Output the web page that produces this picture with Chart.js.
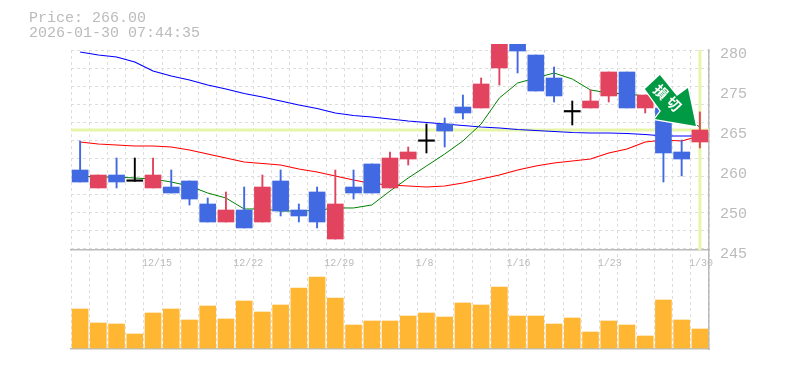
<!DOCTYPE html>
<html><head><meta charset="utf-8">
<style>html,body{margin:0;padding:0;background:#fff}canvas{display:block}</style>
<script src="https://cdn.jsdelivr.net/npm/chart.js@4"></script>
</head><body><canvas id="c" width="785" height="370"></canvas>
<script>
const categories=['12/9','12/10','12/11','12/12','12/15','12/16','12/17','12/18','12/19','12/22','12/23','12/24','12/25','12/26','12/29','12/30','1/5','1/6','1/7','1/8','1/9','1/13','1/14','1/15','1/16','1/19','1/20','1/21','1/22','1/23','1/26','1/27','1/28','1/29','1/30'];
const tickDates=['12/15','12/22','12/29','1/8','1/16','1/23','1/30'];
const opens=[258.5,255.13,257.56,256.38,255.13,255.31,256.44,252.13,248.75,251,248.75,256.44,251,254.38,245.56,255.31,259.63,255.13,260.56,263.88,267.13,270.31,270.13,277.63,284,280.06,275.75,269.38,270.13,272.38,276.88,270.13,270.13,261.88,263.75];
const closes=[256.25,257.56,256.25,256.38,257.56,254.19,253.06,248.75,251,247.63,255.31,250.81,249.88,248.75,252.13,254.19,254.19,260.75,261.88,263.88,265.81,269.19,274.63,284,280.81,273.31,272.38,269.38,271.44,276.88,270.13,272.56,261.69,260.56,266];
const highs=[263.94,257.56,260.75,260.75,260.75,258.5,256.44,253.25,254.38,255.31,257.56,258.5,252.13,255.31,258.5,258.5,259.63,261.88,262.81,267.13,268.25,272.56,275.75,284,284,280.06,277.81,271.44,273.5,276.88,276.88,272.56,270.13,264.13,269.38];
const lows=[256.25,255.13,255.13,256.38,255.13,254.19,251.94,248.75,248.75,247.63,248.75,249.88,248.75,247.63,245.56,253.06,254.19,255.13,259.44,261.69,262.81,268.06,270.13,274.44,276.69,273.31,271.25,266.94,270.13,271.25,270.13,269.19,256.25,257.38,262.63];
const maShort=[257.38,257.19,257.19,257,256.81,256.25,255.5,254.19,253.25,251.19,251.19,250.81,250.81,250.91,251.38,251.38,251.94,254.56,257,259.25,261.5,263.94,267.13,272,274.81,275.75,276.69,275.56,273.5,272.94,272.75,272.38,270.69,268.63,266.56];
const maMid=[263.75,263.38,263.19,263,263,262.81,262.25,261.5,260.75,260,259.72,259.44,258.69,258.13,257.38,256.63,255.97,255.69,255.5,255.31,255.5,256.06,256.81,257.56,258.5,259.25,259.81,260.19,260.56,261.69,262.44,263.75,264.13,263.94,264.88];
const maLong=[280.63,280.06,279.69,278.75,277.06,276.13,275.38,274.44,273.69,272.84,272.19,271.44,270.69,270.03,269.19,268.72,268.44,268.06,267.69,267.41,267.13,266.84,266.56,266.38,266.09,265.91,265.72,265.53,265.44,265.44,265.34,265.16,264.88,264.88,264.88];
const volumes=[39,25,24,14,35,39,28,42,29,47,36,43,60,71,50,23,27,27,32,35,31,45,43,61,32,32,24,30,16,27,23,12,48,28,19];
const priceTickValues=[280,272.5,265,257.5,250,242.5];
const priceTickLabels=['280','275','265','260','250','245'];
const lastPrice=266;
const titleLines=['Price: 266.00','2026-01-30 07:44:35'];
const stampText=['損','切'];

const UP='#E2445F',DOWN='#4169E1',DOJI='#000000',GRID='#dddddd',AXIS='#bbbbbb',TEXT='#bbbbbb',BAND='#E6F5A9';
const MONO='"Liberation Mono", monospace';
const candleColor=categories.map((_,i)=>closes[i]>opens[i]?UP:closes[i]<opens[i]?DOWN:DOJI);
const PMAX=281,PMIN=224.94,PANEL_BOTTOM=243.5;
const gridPrices=[];for(let k=0;k<12;k++)gridPrices.push(PMAX-3.375*k);

const stamp={id:'stamp',afterDatasetsDraw(c){
  const g=c.ctx,tx=c.scales.x.getPixelForValue(categories.length-1)-4,ty=c.scales.yP.getPixelForValue(lastPrice)-4;
  const s=[[-36,-51],[-51,-37],[-35,-15],[-41,-7],[0,0],[-8,-38],[-19,-30]];
  g.save();g.beginPath();s.forEach((p,i)=>i?g.lineTo(tx+p[0],ty+p[1]):g.moveTo(tx+p[0],ty+p[1]));g.closePath();
  g.lineJoin='miter';g.lineWidth=2.5;g.strokeStyle='#fff';g.stroke();g.fillStyle='#009944';g.fill();
  g.fillStyle='#fff';g.font='bold 14px "Noto Sans CJK JP"';g.textAlign='center';g.textBaseline='middle';
  [[-35,-34],[-22,-22]].forEach((p,i)=>{g.save();g.translate(tx+p[0],ty+p[1]);g.rotate(Math.PI/4);g.fillText(stampText[i],0,0);g.restore();});
  g.restore();
}};

new Chart(document.getElementById('c'),{
  plugins:[stamp],
  data:{labels:categories,datasets:[
    {type:'bar',label:'Body',data:categories.map((_,i)=>[opens[i],closes[i]]),backgroundColor:candleColor,barThickness:16,minBarLength:1.5,grouped:false,order:1,xAxisID:'x',yAxisID:'yP',clip:{left:0,right:0,top:6,bottom:0}},
    {type:'bar',label:'Range',data:categories.map((_,i)=>[lows[i],highs[i]]),backgroundColor:candleColor,barThickness:1.25,grouped:false,order:2,xAxisID:'x',yAxisID:'yP',clip:{left:0,right:0,top:6,bottom:0}},
    {type:'line',label:'MA short',data:maShort,borderColor:'#008000',borderWidth:1,pointRadius:0,tension:0,order:3,xAxisID:'x',yAxisID:'yP'},
    {type:'line',label:'MA mid',data:maMid,borderColor:'#ff0000',borderWidth:1.2,pointRadius:0,tension:0,order:4,xAxisID:'x',yAxisID:'yP'},
    {type:'line',label:'MA long',data:maLong,borderColor:'#0000ff',borderWidth:1.2,pointRadius:0,tension:0,order:5,xAxisID:'x',yAxisID:'yP'},
    {type:'line',label:'Price level',data:[{x:0,y:lastPrice},{x:1,y:lastPrice}],borderColor:BAND,borderWidth:3,pointRadius:0,order:6,xAxisID:'xF',yAxisID:'yP'},
    {type:'line',label:'Latest date',data:[{x:categories[categories.length-1],y:PMAX},{x:categories[categories.length-1],y:PANEL_BOTTOM}],borderColor:BAND,borderWidth:3,pointRadius:0,order:6,xAxisID:'x',yAxisID:'yP'},
    {type:'bar',label:'Volume',data:volumes,backgroundColor:'#FFB733',barThickness:16,grouped:false,order:7,xAxisID:'x',yAxisID:'yV'}
  ]},
  options:{
    responsive:false,animation:false,events:[],
    layout:{padding:{left:29,right:0,top:0,bottom:21}},
    plugins:{legend:{display:false},tooltip:{enabled:false},
      title:{display:true,text:titleLines,align:'start',color:TEXT,font:{family:MONO,size:15,weight:'normal',lineHeight:1},padding:{top:11,bottom:9}}},
    scales:{
      x:{type:'category',offset:true,position:{yP:PANEL_BOTTOM},
        grid:{display:true,offset:true,color:GRID,lineWidth:1,drawTicks:false},
        border:{display:true,color:AXIS,width:1.5,dash:[3,3],dashOffset:0},
        ticks:{autoSkip:false,maxRotation:0,minRotation:0,align:'start',labelOffset:-11,padding:7,color:TEXT,font:{family:MONO,size:10},
          callback(v){const l=this.getLabelForValue(v);return tickDates.includes(l)?l:'';}}},
      xF:{type:'linear',min:0,max:1,position:'bottom',
        grid:{display:false,drawTicks:false},border:{display:true,color:AXIS,width:1.5},ticks:{display:false}},
      yP:{type:'linear',position:'left',min:PMIN,max:PMAX,
        afterBuildTicks(s){s.ticks=gridPrices.map(value=>({value}));},
        afterFit(s){s.width=42;},
        grid:{display:true,color:GRID,lineWidth:1,drawTicks:false},
        border:{display:false,dash:[3,3]},ticks:{display:false}},
      yL:{type:'linear',position:'right',min:PMIN,max:PMAX,
        afterBuildTicks(s){s.ticks=priceTickValues.map(value=>({value}));},
        afterFit(s){s.width=76;},
        grid:{display:false,drawTicks:false},border:{display:true,color:AXIS,width:1.5},
        ticks:{padding:11,labelOffset:-1,color:TEXT,font:{family:MONO,size:15},
          callback(v){return priceTickLabels[priceTickValues.indexOf(v)];}}},
      yV:{type:'linear',display:false,min:-1,max:298}
    }
  }
});
</script></body></html>
